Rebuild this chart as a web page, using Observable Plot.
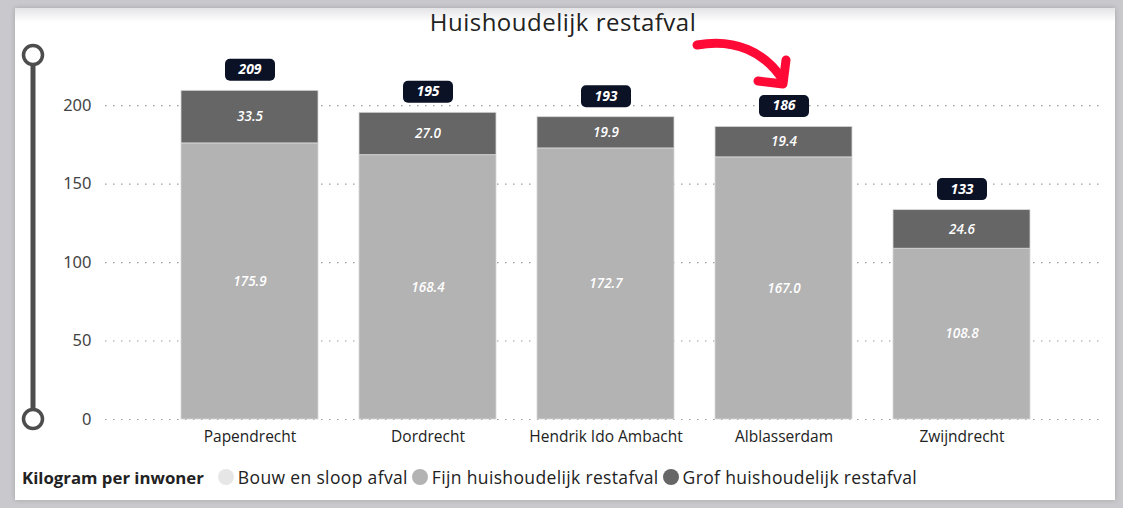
<!DOCTYPE html>
<html>
<head>
<meta charset="utf-8">
<script src="https://cdn.jsdelivr.net/npm/d3@7"></script>
<script src="https://cdn.jsdelivr.net/npm/@observablehq/plot@0.6"></script>
<style>
  html, body { margin: 0; padding: 0; }
  body { width: 1123px; height: 508px; position: relative; overflow: hidden; background: #c9c9cd; font-family: "Open Sans", "Noto Sans", sans-serif; }
  #card { position: absolute; left: 15px; top: 8px; width: 1100px; height: 492px; background: #fff; box-shadow: 0 0 5px rgba(0,0,0,0.18); }
  #topfade { position: absolute; left: 15px; top: 8px; width: 1100px; height: 14px; background: linear-gradient(#e4e4e6, rgba(255,255,255,0)); }
  #title { position: absolute; left: 0; top: 5px; width: 1126px; text-align: center; font-size: 24px; color: #222; letter-spacing: 0.5px; }
  #chart { position: absolute; left: 0; top: 40px; }
  #legend { position: absolute; left: 22px; top: 465px; font-size: 17.5px; letter-spacing: 0.35px; color: #222; display: flex; align-items: center; white-space: nowrap; }
  #legend .head { font-weight: bold; margin-right: 14px; font-size: 16.8px; letter-spacing: 0; }
  #legend .item { display: flex; align-items: center; margin-right: 4px; }
  #legend .sw { width: 16px; height: 16px; border-radius: 50%; margin-right: 4px; }
  #overlay { position: absolute; left: 0; top: 0; pointer-events: none; }
</style>
</head>
<body>
<div id="card"></div>
<div id="topfade"></div>
<div id="title">Huishoudelijk restafval</div>
<div id="chart"></div>
<div id="legend"></div>
<svg id="overlay" width="1123" height="508">
  <line x1="33" y1="64" x2="33" y2="410" stroke="#4d4d4d" stroke-width="5"/>
  <circle cx="33" cy="55" r="9.5" fill="#fff" stroke="#4d4d4d" stroke-width="3.5"/>
  <circle cx="33" cy="419" r="9.5" fill="#fff" stroke="#4d4d4d" stroke-width="3.5"/>
  <path d="M697 45 C 735 38, 765 52, 783 80" fill="none" stroke="#ff0a37" stroke-width="9" stroke-linecap="round"/>
  <path d="M758 81 L783 84 L786 60" fill="none" stroke="#ff0a37" stroke-width="9" stroke-linecap="round" stroke-linejoin="round"/>
</svg>
<script>
const gemeenten = ["Papendrecht", "Dordrecht", "Hendrik Ido Ambacht", "Alblasserdam", "Zwijndrecht"];
const series = ["Bouw en sloop afval", "Fijn huishoudelijk restafval", "Grof huishoudelijk restafval"];
const seriesColors = ["#e6e6e6", "#b3b3b3", "#666666"];
const bouwEnSloop = [0, 0, 0, 0, 0];
const fijnRestafval = [175.9, 168.4, 172.7, 167.0, 108.8];
const grofRestafval = [33.5, 27.0, 19.9, 19.4, 24.6];
const yTicks = [0, 50, 100, 150, 200];

const rows = [];
gemeenten.forEach((g, i) => {
  rows.push({gemeente: g, soort: series[0], waarde: bouwEnSloop[i]});
  rows.push({gemeente: g, soort: series[1], waarde: fijnRestafval[i]});
  rows.push({gemeente: g, soort: series[2], waarde: grofRestafval[i]});
});
const segs = rows.filter(d => d.waarde > 0);
const totals = gemeenten.map((g, i) => ({gemeente: g, totaal: bouwEnSloop[i] + fijnRestafval[i] + grofRestafval[i]}));

const roundedBox = {
  draw(context) {
    const w = 50, h = 22, r = 5, x0 = -w / 2, y0 = -h / 2;
    context.moveTo(x0 + r, y0);
    context.arcTo(x0 + w, y0, x0 + w, y0 + h, r);
    context.arcTo(x0 + w, y0 + h, x0, y0 + h, r);
    context.arcTo(x0, y0 + h, x0, y0, r);
    context.arcTo(x0, y0, x0 + w, y0, r);
    context.closePath();
  }
};

const chart = Plot.plot({
  width: 1123,
  height: 420,
  marginLeft: 105,
  marginRight: 18,
  marginTop: 18,
  marginBottom: 41,
  style: {fontFamily: "'Open Sans', 'Noto Sans', sans-serif", background: "transparent"},
  x: {domain: gemeenten, paddingInner: 0.2325, paddingOuter: 0.4175, label: null, tickSize: 0, tickPadding: 12},
  y: {domain: [0, 230], label: null, ticks: yTicks},
  color: {domain: series, range: seriesColors},
  marks: [
    Plot.gridY(yTicks, {stroke: "#9a9a9a", strokeOpacity: 1, strokeDasharray: "1.5,6.5", strokeWidth: 1.2}),
    Plot.barY(segs, {x: "gemeente", y: "waarde", fill: "soort", stroke: "#d8d8d8", strokeWidth: 0.8}),
    Plot.text(segs, Plot.stackY({x: "gemeente", y: "waarde", text: d => d.waarde.toFixed(1), fill: "white", fontSize: 13.5, fontStyle: "italic", fontWeight: 600})),
    Plot.dot(totals, {x: "gemeente", y: "totaal", dy: -21, symbol: roundedBox, fill: "#0b1226", stroke: "none", r: 5}),
    Plot.text(totals, {x: "gemeente", y: "totaal", dy: -21, text: d => Math.round(d.totaal), fill: "white", fontSize: 14, fontStyle: "italic", fontWeight: "bold"}),
    Plot.axisY(yTicks, {tickSize: 0, tickPadding: 14, fontSize: 16.5, fill: "#444", fontFamily: "'Noto Sans', sans-serif"}),
    Plot.axisX({tickSize: 0, tickPadding: 11, fontSize: 15.5, fill: "#222", style: {letterSpacing: "0.2px"}})
  ]
});
document.getElementById("chart").appendChild(chart);

const legend = document.getElementById("legend");
const head = document.createElement("span");
head.className = "head";
head.textContent = "Kilogram per inwoner";
legend.appendChild(head);
series.forEach((s, i) => {
  const item = document.createElement("span");
  item.className = "item";
  const sw = document.createElement("span");
  sw.className = "sw";
  sw.style.background = seriesColors[i];
  const t = document.createElement("span");
  t.textContent = s;
  item.appendChild(sw);
  item.appendChild(t);
  legend.appendChild(item);
});
</script>
</body>
</html>
